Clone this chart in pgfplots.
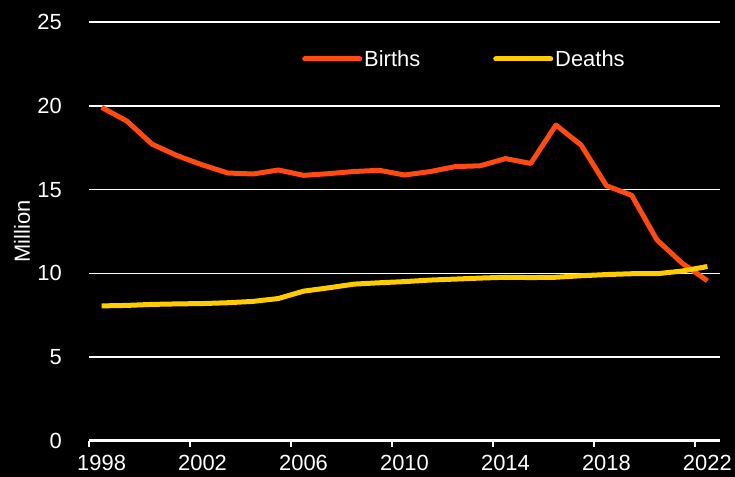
\documentclass[border=0pt]{standalone}
\usepackage{fontspec}
\setmainfont{Liberation Sans}
\usepackage{pgfplots}
\pgfplotsset{compat=1.18}
\definecolor{births}{RGB}{255,74,20}
\definecolor{deaths}{RGB}{255,204,0}
\begin{document}
\begin{tikzpicture}[x=1bp,y=1bp]
\fill[black] (0,0) rectangle (735,477);
\path[use as bounding box] (0,0) rectangle (735,477);
\begin{axis}[
  at={(89bp,36bp)}, anchor=south west,
  scale only axis, width=631bp, height=419bp,
  xmin=1998, xmax=2023, ymin=0, ymax=25,
  axis x line*=bottom, axis y line*=left,
  x axis line style={white, line width=3bp, -},
  y axis line style={draw=none},
  xtick={1998,2002,...,2022},
  ytick={0,5,...,25},
  xtick style={white, line width=2.5bp},
  ytick style={draw=none},
  tick align=outside,
  major tick length=6bp,
  ymajorgrids,
  grid style={white, line width=1.5bp},
  /pgf/number format/assume math mode=true,
  /pgf/number format/1000 sep={},
  every tick label/.append style={font=\fontsize{22}{24}\selectfont, text=white},
  x tick label style={anchor=center, inner sep=0pt, yshift=-16bp, xshift=12.6bp},
  y tick label style={anchor=east, inner sep=0pt, xshift=-21bp},
  ylabel={Million},
  every axis y label/.style={at={(axis description cs:-0.1062,0.5)}, rotate=90, anchor=center, font=\fontsize{22}{24}\selectfont, text=white},
  legend columns=2,
  legend style={at={(axis description cs:0.3376,0.9117)}, anchor=west, draw=none, fill=none,
    font=\fontsize{22}{24}\selectfont, text=white, inner sep=0pt,
    /tikz/every even column/.append style={column sep=71bp}},
  legend image code/.code={\draw[#1, line cap=round] (0bp,0bp) -- (55bp,0bp);},
]
\addplot[births, line width=5bp, line join=round] coordinates {
(1998.5,19.91) (1999.5,19.09) (2000.5,17.71) (2001.5,17.02) (2002.5,16.47)
(2003.5,15.99) (2004.5,15.93) (2005.5,16.17) (2006.5,15.85) (2007.5,15.95)
(2008.5,16.08) (2009.5,16.15) (2010.5,15.87) (2011.5,16.07) (2012.5,16.37)
(2013.5,16.42) (2014.5,16.85) (2015.5,16.56) (2016.5,18.85) (2017.5,17.65)
(2018.5,15.23) (2019.5,14.66) (2020.5,12.00) (2021.5,10.61) (2022.5,9.56)
};
\addlegendentry{Births}
\addplot[deaths, line width=5bp, line join=round] coordinates {
(1998.5,8.06) (1999.5,8.09) (2000.5,8.15) (2001.5,8.18) (2002.5,8.20)
(2003.5,8.25) (2004.5,8.33) (2005.5,8.50) (2006.5,8.94) (2007.5,9.14)
(2008.5,9.36) (2009.5,9.44) (2010.5,9.51) (2011.5,9.60) (2012.5,9.66)
(2013.5,9.72) (2014.5,9.77) (2015.5,9.75) (2016.5,9.77) (2017.5,9.86)
(2018.5,9.93) (2019.5,9.98) (2020.5,9.98) (2021.5,10.14) (2022.5,10.41)
};
\addlegendentry{Deaths}
\end{axis}
\end{tikzpicture}
\end{document}
